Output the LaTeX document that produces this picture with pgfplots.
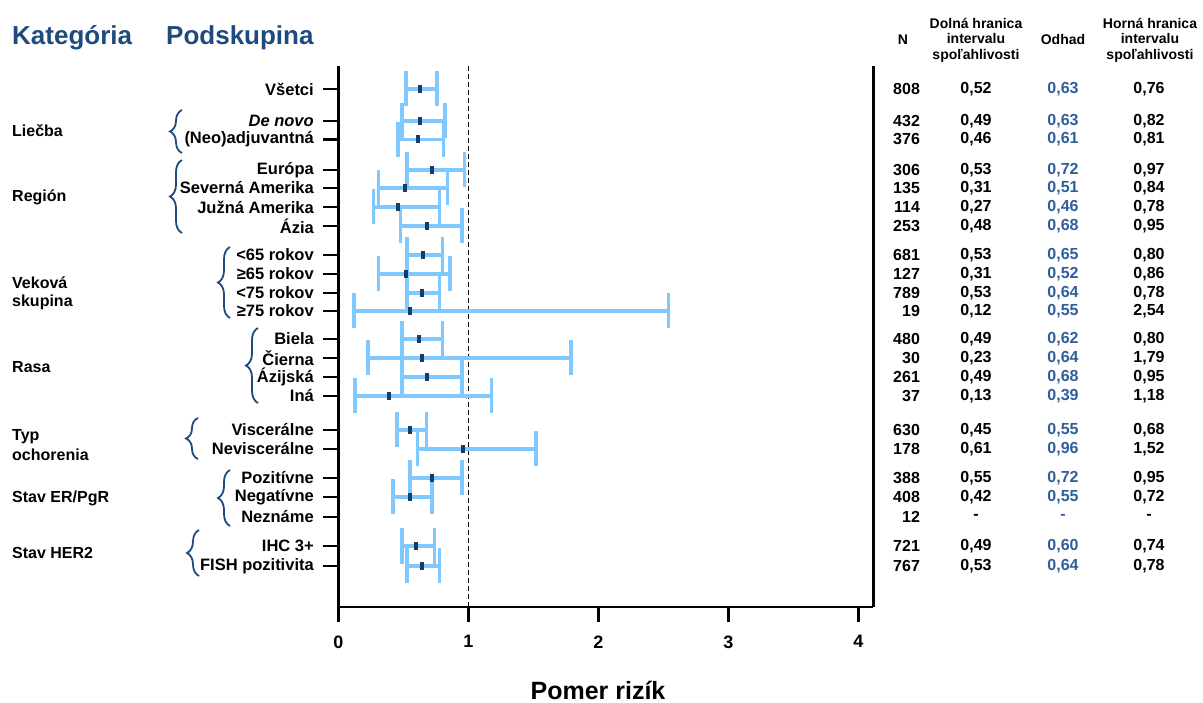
\documentclass[border=0pt]{standalone}
\usepackage{fontspec}
\setmainfont{Liberation Sans}
\usepackage{pgfplots}
\pgfplotsset{compat=1.18}
\usepackage{pgfplotstable}
\usetikzlibrary{decorations.pathreplacing}

\definecolor{navy}{RGB}{31,74,126}
\definecolor{barblue}{RGB}{128,201,255}
\definecolor{markblue}{RGB}{26,58,104}
\definecolor{estblue}{RGB}{47,94,155}

\newcommand{\fs}[1]{\fontsize{#1}{#1}\selectfont}

% row = vertical position of the row (pixels from top)
\pgfplotstableread{
row   N    lo    est   hi
89    808  0.52  0.63  0.76
121   432  0.49  0.63  0.82
139.5 376  0.46  0.61  0.81
170   306  0.53  0.72  0.97
188   135  0.31  0.51  0.84
207   114  0.27  0.46  0.78
226   253  0.48  0.68  0.95
255   681  0.53  0.65  0.80
274   127  0.31  0.52  0.86
293   789  0.53  0.64  0.78
311   19   0.12  0.55  2.54
339   480  0.49  0.62  0.80
358   30   0.23  0.64  1.79
377   261  0.49  0.68  0.95
396   37   0.13  0.39  1.18
430   630  0.45  0.55  0.68
449   178  0.61  0.96  1.52
478   388  0.55  0.72  0.95
497   408  0.42  0.55  0.72
517   12   nan   nan   nan
546   721  0.49  0.60  0.74
566   767  0.53  0.64  0.78
}\hrdata

\begin{document}
\begin{tikzpicture}
\path[use as bounding box] (0,0) rectangle (1203pt,702pt);
\begin{axis}[
  at={(338.3pt,95pt)}, anchor=south west,
  scale only axis, width=535pt, height=541pt,
  xmin=0, xmax=4.115, ymin=-607, ymax=-66,
  clip=false,
  /pgf/number format/assume math mode=true,
  axis x line*=bottom, axis y line*=box,
  axis line style={line width=2.5pt},
  tick style={line width=2.5pt, black},
  tick align=outside, major tick length=15pt,
  xtick pos=lower, xtick align=outside,
  xtick={0,1,2,3,4}, xticklabels={0,1,2,3,4},
  xticklabel style={font=\bfseries\fs{18}, yshift=-10pt},
  ytick pos=left,
  ytick={-89,-121,-139.5,-170,-188,-207,-226,-255,-274,-293,-311,-339,-358,-377,-396,-430,-449,-478,-497,-517,-546,-566},
  yticklabels={Všetci,\textit{De novo},(Neo)adjuvantná,Európa,Severná Amerika,Južná Amerika,Ázia,<65 rokov,≥65 rokov,<75 rokov,≥75 rokov,Biela,Čierna,Ázijská,Iná,Viscerálne,Neviscerálne,Pozitívne,Negatívne,Neznáme,IHC 3+,FISH pozitivita},
  yticklabel style={font=\bfseries\fs{16.5}, xshift=-6pt},
]
\draw[black, line width=1.3pt, dash pattern=on 5pt off 3pt] (1,-66) -- (1,-607);

\addplot[only marks, mark=|, mark size=4pt,
  mark options={line width=4pt, draw=markblue},
  skip coords between index={19}{20},
  error bars/.cd, x dir=both, x explicit,
  error bar style={line width=3.5pt, draw=barblue},
  error mark options={rotate=90, line width=3.5pt, draw=barblue, mark size=17.5pt}]
  table[x=est, y expr=-\thisrow{row},
        x error plus expr=\thisrow{hi}-\thisrow{est},
        x error minus expr=\thisrow{est}-\thisrow{lo}] {\hrdata};

% right-hand table
\addplot[draw=none, point meta=explicit,
  nodes near coords={\pgfmathprintnumber{\pgfplotspointmeta}},
  every node near coord/.append style={anchor=east, inner sep=0pt, font=\bfseries\fs{16}}]
  table[x expr=4.475, y expr=-\thisrow{row}, meta=N] {\hrdata};
\addplot[draw=none, point meta=explicit, skip coords between index={19}{20},
  nodes near coords={\pgfmathprintnumber[fixed,fixed zerofill,precision=2,use comma]{\pgfplotspointmeta}},
  every node near coord/.append style={anchor=center, inner sep=0pt, font=\bfseries\fs{16}}]
  table[x expr=4.905, y expr=-\thisrow{row}, meta=lo] {\hrdata};
\addplot[draw=none, point meta=explicit, skip coords between index={19}{20},
  nodes near coords={\pgfmathprintnumber[fixed,fixed zerofill,precision=2,use comma]{\pgfplotspointmeta}},
  every node near coord/.append style={anchor=center, inner sep=0pt, text=estblue, font=\bfseries\fs{16}}]
  table[x expr=5.574, y expr=-\thisrow{row}, meta=est] {\hrdata};
\addplot[draw=none, point meta=explicit, skip coords between index={19}{20},
  nodes near coords={\pgfmathprintnumber[fixed,fixed zerofill,precision=2,use comma]{\pgfplotspointmeta}},
  every node near coord/.append style={anchor=center, inner sep=0pt, font=\bfseries\fs{16}}]
  table[x expr=6.236, y expr=-\thisrow{row}, meta=hi] {\hrdata};
\end{axis}

\begin{scope}[x=1pt, y=1pt]
% headers
\node[anchor=west, inner sep=0pt, text=navy, font=\bfseries\fs{26}] at (12,{702-38}) {Kategória};
\node[anchor=west, inner sep=0pt, text=navy, font=\bfseries\fs{26}] at (166,{702-38}) {Podskupina};
\node[inner sep=0pt, font=\bfseries\fs{14}] at (903,{702-40}) {N};
\node[inner sep=0pt, align=center, font=\bfseries\fontsize{14}{15.5}\selectfont] at (976,{702-40}) {Dolná hranica\\intervalu\\spoľahlivosti};
\node[inner sep=0pt, font=\bfseries\fs{14}] at (1063,{702-40}) {Odhad};
\node[inner sep=0pt, align=center, font=\bfseries\fontsize{14}{15.5}\selectfont] at (1150,{702-40}) {Horná hranica\\intervalu\\spoľahlivosti};
% dashes for the empty row
\node[font=\bfseries\fs{16}] at (976,{702-517}) {-};
\node[font=\bfseries\fs{16}, text=estblue] at (1063,{702-517}) {-};
\node[font=\bfseries\fs{16}] at (1149,{702-517}) {-};
% categories
\begin{scope}[every node/.style={anchor=west, inner sep=0pt, font=\bfseries\fs{16}}]
\node at (12,{702-131}) {Liečba};
\node at (12,{702-197}) {Región};
\node at (12,{702-283}) {Veková};
\node at (12,{702-302}) {skupina};
\node at (12,{702-367}) {Rasa};
\node at (12,{702-437}) {Typ};
\node at (12,{702-455}) {ochorenia};
\node at (12,{702-498}) {Stav ER/PgR};
\node at (12,{702-553}) {Stav HER2};
\end{scope}
% braces
\begin{scope}[navy, line width=1.8pt, decoration={brace, amplitude=12pt}]
\draw[decorate] (182,{702-153}) -- (182,{702-110});
\draw[decorate] (182,{702-233}) -- (182,{702-160});
\draw[decorate] (230,{702-318}) -- (230,{702-247});
\draw[decorate] (258,{702-403}) -- (258,{702-328});
\draw[decorate] (198,{702-459}) -- (198,{702-418});
\draw[decorate] (230,{702-526}) -- (230,{702-470});
\draw[decorate] (199,{702-576}) -- (199,{702-530});
\end{scope}
% x label
\node[font=\bfseries\fs{25}] at (598,{702-690}) {Pomer rizík};
\end{scope}
\end{tikzpicture}
\end{document}
